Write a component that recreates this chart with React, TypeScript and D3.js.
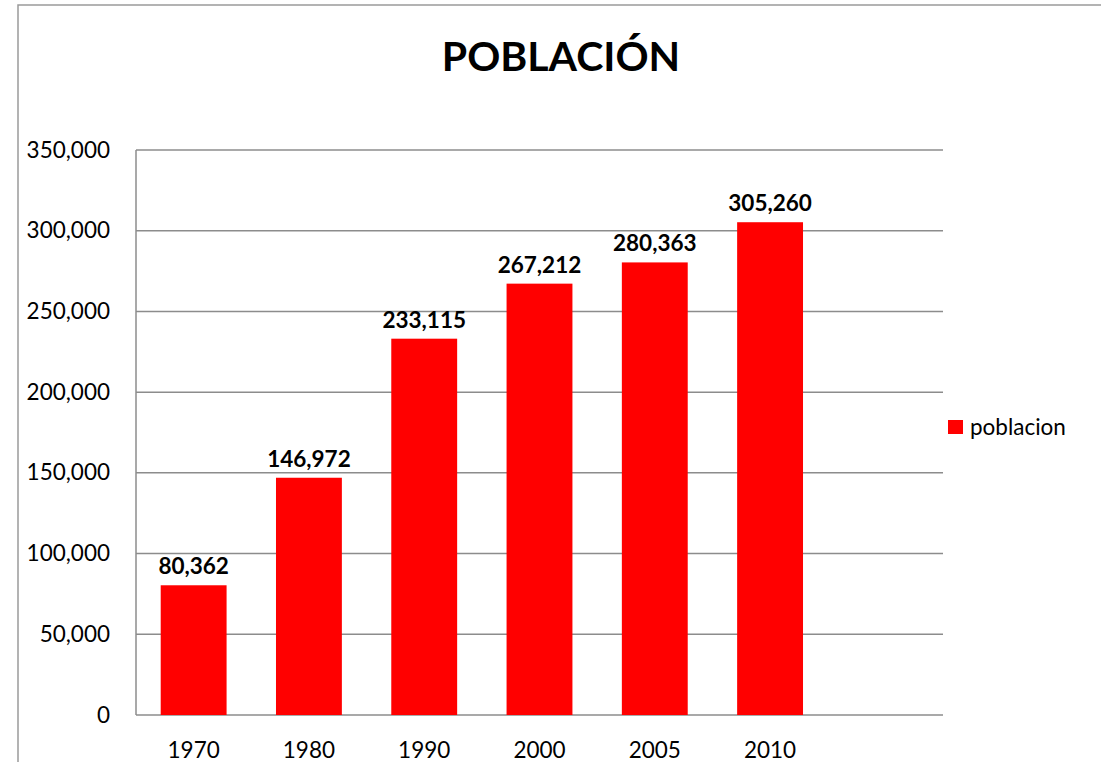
import React from 'react';
import * as d3 from 'd3';

const years = ['1970', '1980', '1990', '2000', '2005', '2010'];
const poblacion = [80362, 146972, 233115, 267212, 280363, 305260];
const yTicks = [0, 50000, 100000, 150000, 200000, 250000, 300000, 350000];
const seriesName = 'poblacion';
const title = 'POBLACIÓN';

const W = 1101;
const H = 762;
const plot = {left: 136, top: 150, right: 943, bottom: 715};
const font = 'Lato, Calibri, sans-serif';
const grid = '#8c8c8c';
const fs = 22.5;

export default function App() {
    // excel leaves an empty 7th slot at the right of the category axis
    const x = d3.scaleBand<string>()
        .domain([...years, ''])
        .range([plot.left, plot.right])
        .paddingInner(0.75 / 1.75)
        .paddingOuter(0.75 / 3.5);

    const y = d3.scaleLinear()
        .domain([0, 350000])
        .range([plot.bottom, plot.top]);

    const fmt = d3.format(',');

    return (
        <svg width={W} height={H} style={{position: 'absolute', left: 0, top: 0}} fontFamily={font}>
            <rect x={18} y={5} width={W} height={H} fill='white' stroke='#9a9a9a' strokeWidth={1.5} />

            <text x={561} y={71} textAnchor='middle' fontSize={41} fontWeight='bold' fill='#000'>{title}</text>

            {yTicks.map((t) => (
                <g key={t}>
                    <line x1={plot.left} x2={plot.right} y1={y(t)} y2={y(t)} stroke={grid} strokeWidth={1.5} />
                    <text x={110} y={y(t) + 7.5} textAnchor='end' fontSize={fs} fill='#000'>{fmt(t)}</text>
                </g>
            ))}
            <line x1={plot.left} x2={plot.left} y1={plot.top} y2={plot.bottom} stroke={grid} strokeWidth={1.5} />

            {poblacion.map((v, i) => (
                <g key={years[i]}>
                    <rect x={x(years[i])} y={y(v)} width={x.bandwidth()} height={y(0) - y(v)} fill='#ff0000' />
                    <text x={(x(years[i]) as number) + x.bandwidth() / 2} y={y(v) - 11} textAnchor='middle'
                        fontSize={fs} fontWeight='bold' fill='#000'>{fmt(v)}</text>
                    <text x={(x(years[i]) as number) + x.bandwidth() / 2} y={758} textAnchor='middle'
                        fontSize={fs} fill='#000'>{years[i]}</text>
                </g>
            ))}

            <rect x={948} y={420} width={15} height={14} fill='#ff0000' />
            <text x={970} y={435} fontSize={fs} fill='#000'>{seriesName}</text>
        </svg>
    );
}
